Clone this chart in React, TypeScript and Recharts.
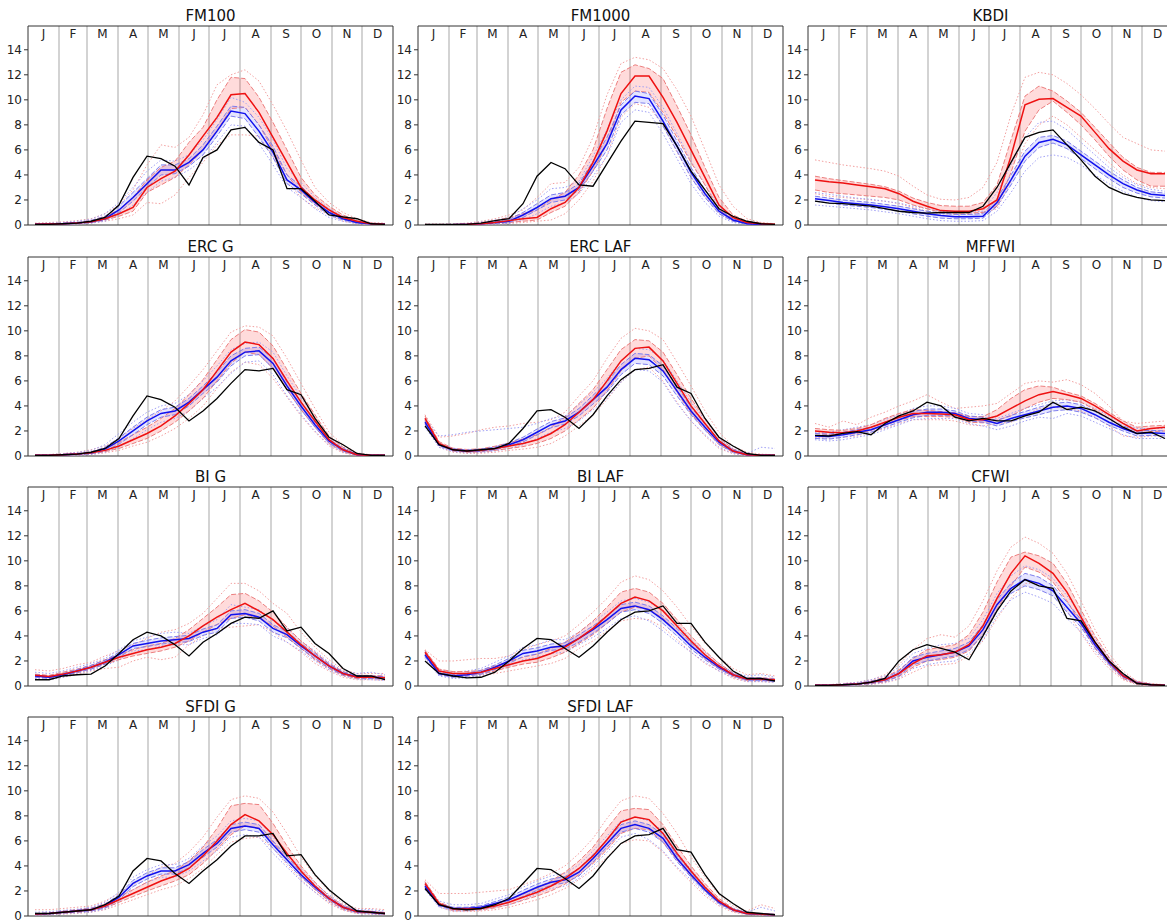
import React from 'react'
import { ComposedChart, Line, Area, XAxis, YAxis, CartesianGrid, ReferenceArea } from 'recharts'

// biweekly sample days
const DAYS = [7, 21, 35, 49, 63, 77, 91, 105, 119, 133, 147, 161, 175, 189, 203, 217, 231, 245, 259, 273, 287, 301, 315, 329, 343, 357]
const MONTHS = ['J', 'F', 'M', 'A', 'M', 'J', 'J', 'A', 'S', 'O', 'N', 'D']
const MONTH_EDGES = [31, 59, 90, 120, 151, 181, 212, 243, 273, 304, 334]
const MONTH_MIDS = [15.5, 45, 74.5, 105, 135.5, 166, 196.5, 227.5, 258, 288.5, 319, 349.5]
const Y_TICKS = [0, 2, 4, 6, 8, 10, 12, 14]
const Y_MAX = 15.9

// FM100
const FM100_OBS = [0.05,0.05,0.1,0.15,0.3,0.6,1.6,3.8,5.5,5.3,4.7,3.2,5.4,6.0,7.6,7.8,6.6,6.0,2.9,2.9,1.9,0.8,0.65,0.5,0.1,0.05]
const FM100_R = [0.05,0.08,0.1,0.15,0.25,0.5,0.9,1.4,3.0,3.7,4.3,5.6,7.1,8.6,10.4,10.5,9.0,7.0,5.0,3.0,2.0,1.2,0.6,0.3,0.1,0.05]
const FM100_R_HI = [0.1,0.12,0.15,0.2,0.35,0.7,1.2,2.2,3.6,4.6,5.1,6.6,7.8,10.0,11.8,11.7,10.2,8.2,6.0,3.8,2.4,1.5,0.8,0.35,0.15,0.1]
const FM100_R_LO = [0.03,0.05,0.08,0.1,0.2,0.4,0.7,1.1,2.6,3.2,3.8,4.8,6.0,7.5,9.3,9.4,8.0,6.0,4.0,2.6,1.7,1.0,0.45,0.2,0.05,0.03]
const FM100_R_MAX = [0.15,0.2,0.25,0.35,0.5,0.9,1.6,2.8,4.8,6.4,6.2,7.0,8.8,11.2,12.0,12.4,11.5,9.6,7.5,5.2,3.0,1.8,1.0,0.5,0.2,0.15]
const FM100_R_MIN = [0.02,0.03,0.05,0.08,0.15,0.3,0.5,0.8,1.8,1.7,2.4,3.8,5.0,6.4,7.2,7.2,7.1,5.5,3.5,2.2,1.4,0.8,0.3,0.1,0.03,0.02]
const FM100_B = [0.05,0.08,0.1,0.15,0.25,0.5,1.2,2.2,3.3,4.4,4.4,5.0,6.0,7.5,9.1,8.9,7.5,5.8,3.6,2.8,1.8,1.0,0.5,0.2,0.1,0.05]
const FM100_B_HI = [0.08,0.1,0.15,0.2,0.35,0.7,1.5,2.6,3.7,4.8,4.8,5.3,6.4,7.9,9.5,9.4,8.0,6.3,4.0,3.1,2.0,1.2,0.6,0.25,0.12,0.08]
const FM100_B_LO = [0.03,0.05,0.08,0.1,0.2,0.4,1.0,1.9,3.0,4.0,4.1,4.7,5.6,7.1,8.7,8.5,7.0,5.4,3.3,2.5,1.6,0.8,0.4,0.15,0.05,0.03]
const FM100_B_MAX = [0.1,0.15,0.2,0.3,0.45,0.9,1.8,3.0,4.3,5.2,5.1,5.6,6.8,8.4,10.2,9.8,8.6,6.8,4.5,3.4,2.2,1.3,0.7,0.3,0.15,0.1]
const FM100_B_MIN = [0.02,0.03,0.05,0.08,0.15,0.3,0.8,1.6,2.6,3.5,3.8,4.4,5.2,6.6,8.0,7.9,6.5,4.8,3.0,2.2,1.3,0.6,0.3,0.1,0.03,0.02]

// FM1000
const FM1000_OBS = [0.05,0.05,0.05,0.05,0.15,0.35,0.5,1.7,3.9,5.0,4.5,3.2,3.1,4.9,6.7,8.3,8.2,8.1,6.3,4.3,2.8,1.3,0.7,0.3,0.1,0.05]
const FM1000_R = [0.02,0.02,0.03,0.05,0.1,0.2,0.35,0.5,0.6,1.3,1.8,3.0,5.0,7.5,10.5,11.9,11.9,10.2,8.2,6.0,3.8,1.6,0.6,0.2,0.1,0.05]
const FM1000_R_HI = [0.05,0.05,0.06,0.1,0.2,0.35,0.6,0.9,1.2,2.0,2.6,4.0,6.0,9.3,12.2,12.8,12.5,11.7,9.5,7.2,4.6,2.2,0.8,0.3,0.15,0.08]
const FM1000_R_LO = [0.01,0.01,0.02,0.03,0.06,0.12,0.2,0.3,0.4,1.0,1.5,2.6,4.3,6.5,9.8,10.7,10.6,9.0,7.0,5.0,3.2,1.2,0.4,0.1,0.05,0.02]
const FM1000_R_MAX = [0.08,0.08,0.1,0.15,0.3,0.5,0.8,1.2,2.2,3.3,3.4,4.6,7.0,10.4,12.9,13.4,13.2,12.5,10.8,8.7,6.0,3.2,1.5,0.5,0.2,0.1]
const FM1000_R_MIN = [0.01,0.01,0.01,0.02,0.04,0.08,0.12,0.2,0.3,0.4,0.9,2.0,3.5,5.6,8.6,9.7,9.4,8.0,5.8,3.8,2.3,0.9,0.3,0.08,0.03,0.01]
const FM1000_B = [0.02,0.02,0.03,0.05,0.1,0.2,0.3,0.8,1.4,2.1,2.3,3.0,4.7,6.5,9.2,10.3,10.1,8.3,6.3,4.2,2.5,1.1,0.4,0.1,0.05,0.02]
const FM1000_B_HI = [0.04,0.04,0.05,0.08,0.15,0.3,0.45,1.0,1.7,2.4,2.6,3.3,5.1,7.0,9.6,10.7,10.5,8.8,6.7,4.6,2.8,1.3,0.5,0.15,0.08,0.04]
const FM1000_B_LO = [0.01,0.01,0.02,0.03,0.06,0.12,0.2,0.6,1.2,1.8,2.0,2.8,4.3,6.0,8.8,9.8,9.7,7.9,5.9,3.8,2.2,0.9,0.3,0.07,0.03,0.01]
const FM1000_B_MAX = [0.06,0.06,0.08,0.12,0.25,0.4,0.6,1.3,2.0,2.9,3.0,3.5,5.5,7.6,10.0,11.1,11.0,9.4,7.3,5.1,3.2,1.5,0.6,0.2,0.1,0.05]
const FM1000_B_MIN = [0.01,0.01,0.01,0.02,0.04,0.08,0.12,0.4,0.9,1.5,1.8,2.5,3.9,5.5,8.2,9.2,9.0,7.3,5.3,3.3,1.8,0.7,0.2,0.05,0.02,0.01]

// KBDI
const KBDI_OBS = [1.9,1.75,1.7,1.6,1.5,1.3,1.1,1.0,0.95,1.0,1.0,1.0,1.5,3.0,5.0,7.0,7.4,7.6,6.4,5.2,3.9,3.0,2.5,2.2,2.0,1.95]
const KBDI_R = [3.6,3.45,3.35,3.2,3.05,2.9,2.5,1.9,1.5,1.15,1.1,1.1,1.3,2.0,5.5,9.6,10.05,10.1,9.4,8.7,7.4,6.1,5.1,4.4,4.1,4.1]
const KBDI_R_HI = [3.9,3.7,3.55,3.4,3.25,3.05,2.7,2.15,1.8,1.55,1.5,1.5,1.8,3.2,6.8,10.3,11.1,10.7,9.9,9.0,7.8,6.6,5.4,4.6,4.2,4.2]
const KBDI_R_LO = [2.8,2.6,2.5,2.4,2.3,2.2,2.0,1.6,1.3,1.0,0.95,0.95,1.0,1.5,4.2,7.5,9.2,9.9,9.0,8.0,6.8,5.5,4.4,3.6,3.1,3.1]
const KBDI_R_MAX = [5.2,5.0,4.8,4.65,4.5,4.3,3.9,3.1,2.4,2.05,2.0,2.2,3.0,5.0,8.8,11.8,12.2,12.0,11.3,10.4,9.3,8.1,7.0,6.5,6.0,5.9]
const KBDI_R_MIN = [2.5,2.3,2.2,2.1,2.0,1.9,1.7,1.4,1.1,0.9,0.85,0.85,0.95,1.3,3.5,6.5,8.0,8.7,8.0,7.0,6.0,5.0,4.0,3.3,3.0,2.9]
const KBDI_B = [2.1,1.95,1.8,1.7,1.6,1.45,1.3,1.1,0.9,0.75,0.65,0.65,0.7,1.8,3.6,5.5,6.6,6.85,6.4,5.6,4.8,4.0,3.3,2.8,2.45,2.35]
const KBDI_B_HI = [2.3,2.15,2.0,1.9,1.8,1.65,1.5,1.3,1.1,0.95,0.85,0.85,0.9,2.1,4.0,5.9,7.0,7.15,6.7,5.9,5.1,4.3,3.6,3.0,2.65,2.55]
const KBDI_B_LO = [1.9,1.75,1.6,1.5,1.4,1.25,1.1,0.9,0.7,0.55,0.5,0.5,0.55,1.5,3.2,5.1,6.2,6.55,6.1,5.3,4.5,3.7,3.0,2.55,2.25,2.15]
const KBDI_B_MAX = [2.6,2.45,2.3,2.15,2.05,1.9,1.75,1.5,1.3,1.1,1.0,1.0,1.1,2.6,4.8,7.0,8.2,8.3,7.6,6.6,5.6,4.6,3.8,3.2,2.85,2.7]
const KBDI_B_MIN = [1.6,1.5,1.4,1.3,1.2,1.05,0.9,0.7,0.5,0.35,0.3,0.3,0.35,1.1,2.6,4.3,5.4,5.6,5.4,4.8,4.0,3.3,2.7,2.2,1.95,1.85]

// ERC G
const ERCG_OBS = [0.05,0.05,0.1,0.15,0.3,0.6,1.4,3.2,4.8,4.5,3.9,2.8,3.6,4.6,5.8,6.9,6.8,7.0,5.3,4.9,3.0,1.5,0.9,0.2,0.05,0.05]
const ERCG_R = [0.05,0.05,0.1,0.15,0.25,0.45,0.8,1.3,1.8,2.4,3.2,4.2,5.3,6.8,8.3,9.1,8.9,7.8,6.0,4.3,2.8,1.3,0.5,0.1,0.05,0.05]
const ERCG_R_HI = [0.08,0.08,0.15,0.2,0.35,0.6,1.1,1.7,2.3,3.0,3.8,4.9,6.1,7.7,9.3,10.1,9.9,8.8,6.9,5.0,3.3,1.6,0.7,0.15,0.08,0.08]
const ERCG_R_LO = [0.03,0.03,0.06,0.1,0.18,0.35,0.6,1.0,1.4,2.0,2.7,3.6,4.6,6.0,7.4,8.3,8.1,7.0,5.3,3.7,2.3,1.0,0.35,0.06,0.03,0.03]
const ERCG_R_MAX = [0.1,0.12,0.2,0.3,0.5,0.8,1.4,2.2,2.9,3.6,4.4,5.6,6.9,8.4,9.9,10.4,10.3,9.6,7.8,5.8,3.8,1.9,0.9,0.25,0.1,0.1]
const ERCG_R_MIN = [0.02,0.02,0.04,0.06,0.12,0.25,0.45,0.8,1.1,1.6,2.2,3.0,4.0,5.4,6.7,7.5,7.3,6.2,4.7,3.2,1.9,0.8,0.25,0.04,0.02,0.02]
const ERCG_B = [0.05,0.05,0.1,0.15,0.25,0.55,1.2,2.0,2.8,3.4,3.6,4.3,5.3,6.3,7.6,8.3,8.4,7.4,5.6,4.0,2.5,1.2,0.5,0.1,0.05,0.05]
const ERCG_B_HI = [0.07,0.07,0.13,0.2,0.32,0.7,1.45,2.3,3.1,3.7,3.9,4.6,5.6,6.7,8.0,8.6,8.7,7.8,5.9,4.3,2.7,1.35,0.6,0.13,0.07,0.07]
const ERCG_B_LO = [0.03,0.03,0.07,0.1,0.18,0.4,0.95,1.7,2.5,3.1,3.3,4.0,5.0,5.9,7.2,8.0,8.1,7.0,5.3,3.7,2.3,1.05,0.4,0.07,0.03,0.03]
const ERCG_B_MAX = [0.1,0.1,0.18,0.28,0.45,0.9,1.8,2.7,3.5,4.0,4.2,4.9,6.0,7.2,8.5,9.0,9.1,8.3,6.4,4.7,3.0,1.5,0.7,0.18,0.1,0.1]
const ERCG_B_MIN = [0.02,0.02,0.05,0.07,0.12,0.3,0.7,1.4,2.1,2.7,3.0,3.6,4.6,5.5,6.6,7.5,7.6,6.5,4.8,3.3,2.0,0.9,0.3,0.05,0.02,0.02]

// ERC LAF
const ERCL_OBS = [2.4,0.9,0.5,0.4,0.5,0.6,1.0,2.2,3.6,3.7,3.1,2.2,3.3,4.8,6.1,6.9,7.0,7.3,5.5,5.0,3.0,1.5,0.8,0.2,0.05,0.05]
const ERCL_R = [3.0,1.0,0.5,0.4,0.45,0.6,0.8,1.0,1.3,1.8,2.5,3.5,4.5,6.0,7.6,8.6,8.7,7.6,5.8,4.0,2.6,1.2,0.4,0.1,0.05,0.05]
const ERCL_R_HI = [3.2,1.15,0.62,0.52,0.58,0.78,1.05,1.35,1.7,2.3,3.1,4.2,5.3,6.9,8.5,9.3,9.2,8.3,6.5,4.6,3.0,1.5,0.55,0.15,0.08,0.08]
const ERCL_R_LO = [2.8,0.85,0.4,0.3,0.33,0.45,0.6,0.75,1.0,1.4,2.0,2.9,3.8,5.2,6.8,7.8,8.0,6.9,5.1,3.4,2.1,0.9,0.28,0.06,0.03,0.03]
const ERCL_R_MAX = [3.3,1.5,1.6,1.8,2.1,2.3,2.4,2.6,2.7,2.9,3.5,4.8,6.0,7.8,9.4,10.2,10.0,9.3,7.5,5.6,3.6,1.9,0.8,0.3,0.15,0.1]
const ERCL_R_MIN = [2.6,0.7,0.3,0.2,0.22,0.3,0.45,0.55,0.7,1.0,1.6,2.4,3.3,4.5,5.9,6.9,7.1,6.0,4.3,2.8,1.6,0.6,0.18,0.03,0.02,0.02]
const ERCL_B = [2.7,0.9,0.5,0.4,0.45,0.6,0.9,1.3,1.9,2.5,2.8,3.5,4.5,5.5,6.9,7.8,7.7,6.8,5.2,3.6,2.3,1.1,0.4,0.1,0.05,0.05]
const ERCL_B_HI = [2.85,1.0,0.58,0.48,0.55,0.72,1.05,1.5,2.15,2.75,3.05,3.8,4.85,5.9,7.3,8.2,8.1,7.2,5.6,3.9,2.55,1.25,0.5,0.13,0.07,0.07]
const ERCL_B_LO = [2.55,0.8,0.42,0.33,0.37,0.5,0.78,1.12,1.68,2.25,2.55,3.2,4.15,5.1,6.5,7.4,7.3,6.4,4.8,3.3,2.05,0.95,0.32,0.07,0.03,0.03]
const ERCL_B_MAX = [3.0,1.6,1.7,1.9,2.0,2.1,2.2,2.3,2.6,3.0,3.2,4.1,5.1,6.2,7.6,8.6,8.5,7.7,6.0,4.3,2.9,1.4,0.6,0.2,0.7,0.6]
const ERCL_B_MIN = [2.3,0.7,0.35,0.25,0.28,0.4,0.6,0.9,1.4,1.9,2.2,2.8,3.7,4.6,5.9,6.9,6.8,5.9,4.2,2.8,1.7,0.7,0.2,0.04,0.02,0.02]

// MFFWI
const MFF_OBS = [1.65,1.6,1.8,1.95,1.7,2.6,3.2,3.6,4.3,4.0,3.1,2.8,3.0,2.8,2.8,3.2,3.5,4.3,3.7,3.9,3.6,3.0,2.3,1.8,1.9,1.4]
const MFF_R = [2.0,1.9,1.85,2.0,2.3,2.7,3.1,3.4,3.4,3.35,3.3,2.9,2.9,3.2,3.8,4.4,4.9,5.15,4.9,4.6,4.0,3.3,2.6,2.0,2.2,2.3]
const MFF_R_HI = [2.2,2.1,2.05,2.2,2.5,3.0,3.4,3.7,3.65,3.55,3.45,3.15,3.15,3.7,4.6,5.3,5.6,5.5,5.1,4.8,4.2,3.5,2.8,2.3,2.4,2.45]
const MFF_R_LO = [1.8,1.7,1.7,1.8,2.05,2.45,2.85,3.15,3.15,3.15,3.1,2.7,2.65,2.85,3.2,3.8,4.3,4.6,4.5,4.3,3.7,3.0,2.3,1.8,1.95,2.0]
const MFF_R_MAX = [2.6,2.3,2.8,2.5,3.1,3.5,4.0,4.4,4.9,4.3,3.8,3.9,4.0,4.2,5.0,5.8,6.0,5.9,6.1,5.7,5.0,4.0,2.8,2.6,2.7,2.8]
const MFF_R_MIN = [1.5,1.4,1.5,1.6,1.9,2.2,2.6,2.9,2.9,2.9,2.8,2.5,2.4,2.6,2.7,3.2,3.8,3.9,3.8,3.6,3.1,2.4,1.6,1.5,1.6,1.6]
const MFF_B = [1.6,1.55,1.7,1.9,2.1,2.5,2.9,3.3,3.5,3.5,3.4,3.0,2.9,2.6,3.0,3.3,3.6,3.9,4.0,3.8,3.3,2.7,2.2,1.8,1.85,1.8]
const MFF_B_HI = [1.8,1.75,1.9,2.1,2.3,2.7,3.1,3.55,3.75,3.75,3.6,3.2,3.1,2.85,3.25,3.55,3.9,4.2,4.3,4.1,3.55,2.95,2.4,2.0,2.05,2.0]
const MFF_B_LO = [1.4,1.35,1.5,1.7,1.9,2.3,2.7,3.05,3.25,3.25,3.2,2.8,2.7,2.4,2.75,3.05,3.3,3.6,3.7,3.5,3.05,2.45,2.0,1.6,1.65,1.6]
const MFF_B_MAX = [1.9,1.9,2.1,2.3,2.5,2.9,3.3,3.8,4.0,4.0,3.8,3.4,3.3,3.0,3.4,3.8,4.1,4.4,4.5,4.3,3.8,3.2,2.6,2.2,2.2,2.2]
const MFF_B_MIN = [1.3,1.2,1.3,1.5,1.7,2.1,2.5,2.9,3.0,3.0,3.0,2.6,2.4,2.1,2.4,2.8,3.1,3.0,3.4,3.2,2.7,2.2,1.7,1.4,1.4,1.4]

// BI G
const BIG_OBS = [0.5,0.5,0.8,0.9,0.95,1.6,2.6,3.7,4.3,4.0,3.3,2.4,3.5,4.2,5.0,5.5,5.4,6.0,4.4,4.7,3.4,2.6,1.4,0.8,0.8,0.5]
const BIG_R = [0.85,0.75,0.95,1.2,1.5,1.9,2.3,2.6,2.9,3.1,3.4,4.0,4.8,5.5,6.1,6.6,6.0,5.3,4.3,3.3,2.4,1.6,1.0,0.7,0.7,0.65]
const BIG_R_HI = [0.95,0.85,1.1,1.35,1.65,2.1,2.5,2.9,3.2,3.4,3.8,4.5,5.4,6.3,7.3,7.4,6.8,5.9,4.7,3.6,2.7,1.8,1.15,0.85,0.85,0.8]
const BIG_R_LO = [0.75,0.65,0.85,1.05,1.35,1.75,2.1,2.4,2.6,2.8,3.1,3.6,4.3,4.9,5.4,5.7,5.4,4.8,3.9,3.0,2.1,1.4,0.85,0.6,0.6,0.55]
const BIG_R_MAX = [1.3,1.2,1.4,1.7,1.9,2.4,2.8,3.3,3.8,4.3,4.5,5.0,5.8,7.0,8.2,8.2,7.6,6.6,5.8,4.3,3.1,2.1,1.3,1.0,1.0,1.0]
const BIG_R_MIN = [0.6,0.5,0.7,0.9,1.2,1.4,1.5,2.0,2.3,2.1,2.3,3.3,4.0,4.6,4.7,4.8,4.9,4.3,3.5,2.7,1.8,1.2,0.7,0.5,0.5,0.45]
const BIG_B = [0.8,0.7,0.9,1.2,1.5,1.9,2.5,3.2,3.4,3.6,3.7,3.8,4.3,4.6,5.7,5.8,5.5,4.6,4.1,3.2,2.4,1.6,1.0,0.75,0.7,0.65]
const BIG_B_HI = [0.9,0.8,1.0,1.3,1.65,2.05,2.7,3.4,3.65,3.85,3.95,4.05,4.55,4.9,6.0,6.1,5.8,4.9,4.35,3.4,2.6,1.75,1.1,0.85,0.8,0.75]
const BIG_B_LO = [0.7,0.6,0.8,1.1,1.35,1.75,2.3,3.0,3.15,3.35,3.45,3.55,4.05,4.3,5.4,5.5,5.2,4.3,3.85,3.0,2.2,1.45,0.9,0.65,0.6,0.55]
const BIG_B_MAX = [1.1,1.0,1.2,1.5,1.8,2.2,2.9,3.6,3.9,4.2,4.3,4.2,4.8,5.3,6.5,6.3,6.1,5.2,4.6,3.6,2.8,1.9,1.2,1.0,1.1,0.9]
const BIG_B_MIN = [0.6,0.5,0.7,1.0,1.25,1.6,2.1,2.8,2.9,3.2,3.3,3.3,3.8,4.1,5.0,5.0,4.9,4.0,3.5,2.8,2.0,1.3,0.8,0.55,0.5,0.45]

// BI LAF
const BIL_OBS = [2.0,1.0,0.8,0.65,0.7,1.1,2.0,3.0,3.8,3.7,3.0,2.3,3.2,4.3,5.3,5.9,6.0,6.4,5.0,5.0,3.5,2.3,1.2,0.6,0.6,0.4]
const BIL_R = [2.7,1.2,1.0,1.0,1.1,1.4,1.7,2.0,2.2,2.6,3.1,3.8,4.6,5.6,6.6,7.1,6.8,6.0,4.8,3.6,2.5,1.6,0.9,0.55,0.55,0.5]
const BIL_R_HI = [2.85,1.35,1.15,1.15,1.25,1.6,1.95,2.3,2.55,3.0,3.5,4.3,5.2,6.3,7.5,7.8,7.5,6.6,5.3,4.0,2.8,1.8,1.05,0.65,0.65,0.6]
const BIL_R_LO = [2.55,1.05,0.85,0.85,0.95,1.2,1.5,1.75,1.9,2.25,2.7,3.4,4.1,5.0,5.9,6.3,6.1,5.4,4.3,3.2,2.2,1.4,0.75,0.45,0.45,0.4]
const BIL_R_MAX = [2.9,2.0,2.0,2.1,2.2,2.2,2.4,2.9,3.3,3.6,4.0,4.9,5.9,7.0,8.3,8.8,8.5,7.6,6.3,4.8,3.4,2.3,1.4,0.9,1.0,0.8]
const BIL_R_MIN = [2.3,0.9,0.7,0.7,0.8,1.0,1.2,1.4,1.6,1.8,2.2,3.0,3.6,4.4,5.2,5.4,5.3,4.7,3.7,2.7,1.8,1.2,0.6,0.35,0.35,0.3]
const BIL_B = [2.5,1.0,0.8,0.9,1.1,1.5,2.0,2.6,2.8,3.1,3.2,3.8,4.5,5.3,6.2,6.4,6.1,5.3,4.3,3.2,2.3,1.5,0.9,0.55,0.55,0.45]
const BIL_B_HI = [2.65,1.1,0.92,1.02,1.25,1.68,2.2,2.85,3.05,3.35,3.45,4.1,4.8,5.6,6.5,6.7,6.4,5.6,4.6,3.45,2.5,1.65,1.0,0.65,0.65,0.55]
const BIL_B_LO = [2.35,0.9,0.7,0.78,0.95,1.32,1.8,2.35,2.55,2.85,2.95,3.5,4.2,5.0,5.9,6.1,5.8,5.0,4.0,2.95,2.1,1.35,0.8,0.45,0.45,0.35]
const BIL_B_MAX = [2.8,1.3,1.1,1.2,1.4,1.9,2.4,3.1,3.3,3.7,3.7,4.3,5.1,5.9,6.8,7.0,6.7,6.0,5.0,3.7,2.7,1.8,1.1,0.8,0.9,0.7]
const BIL_B_MIN = [2.2,0.8,0.6,0.65,0.85,1.2,1.6,2.1,2.3,2.6,2.7,3.3,3.9,4.6,5.4,5.6,5.2,4.4,3.5,2.7,1.9,1.2,0.7,0.35,0.35,0.3]

// CFWI
const CFWI_OBS = [0.05,0.05,0.1,0.15,0.3,0.6,2.0,2.9,3.3,3.0,2.7,2.1,4.0,6.0,7.6,8.5,8.0,7.8,5.4,5.2,3.5,2.0,1.0,0.2,0.1,0.05]
const CFWI_R = [0.05,0.05,0.1,0.15,0.3,0.5,1.0,1.8,2.4,2.5,2.7,3.3,4.8,7.0,9.0,10.4,9.8,9.0,7.5,5.5,3.5,2.0,0.8,0.25,0.1,0.05]
const CFWI_R_HI = [0.08,0.08,0.15,0.2,0.4,0.7,1.3,2.2,2.9,3.1,3.3,4.1,5.9,8.3,10.3,10.7,10.4,9.8,8.2,6.1,4.0,2.3,1.0,0.35,0.15,0.08]
const CFWI_R_LO = [0.03,0.03,0.06,0.1,0.2,0.35,0.75,1.5,2.0,2.1,2.3,2.8,4.1,6.1,8.0,9.5,9.1,8.3,6.8,4.9,3.0,1.7,0.6,0.15,0.05,0.03]
const CFWI_R_MAX = [0.1,0.1,0.2,0.3,0.5,0.9,1.7,2.9,3.8,4.1,3.9,4.8,6.8,9.2,11.1,11.9,11.4,10.6,9.0,6.8,4.5,2.6,1.2,0.4,0.2,0.1]
const CFWI_R_MIN = [0.02,0.02,0.04,0.06,0.12,0.25,0.55,1.1,1.6,1.7,1.8,2.4,3.6,5.4,7.0,8.2,8.2,7.6,6.0,4.2,2.6,1.4,0.5,0.1,0.03,0.02]
const CFWI_B = [0.05,0.05,0.1,0.15,0.3,0.5,1.0,2.0,2.3,2.5,2.7,3.2,4.5,6.5,7.8,8.5,8.2,7.6,6.3,5.0,3.3,1.9,0.8,0.25,0.1,0.05]
const CFWI_B_HI = [0.07,0.07,0.13,0.2,0.38,0.62,1.2,2.3,2.6,2.8,3.0,3.5,4.9,6.9,8.2,9.0,8.7,8.0,6.7,5.3,3.55,2.05,0.9,0.3,0.12,0.07]
const CFWI_B_LO = [0.03,0.03,0.07,0.1,0.22,0.38,0.8,1.7,2.0,2.2,2.4,2.9,4.1,6.1,7.4,8.0,7.7,7.2,5.9,4.7,3.05,1.75,0.7,0.2,0.07,0.03]
const CFWI_B_MAX = [0.1,0.1,0.18,0.28,0.5,0.8,1.5,2.6,3.0,3.3,3.4,3.8,5.3,7.4,8.8,9.6,9.3,8.6,7.2,5.7,3.8,2.2,1.0,0.35,0.15,0.1]
const CFWI_B_MIN = [0.02,0.02,0.05,0.07,0.15,0.3,0.6,1.4,1.7,1.9,2.0,2.6,3.7,5.6,6.9,7.5,7.1,6.6,5.4,4.3,2.8,1.6,0.6,0.15,0.05,0.02]

// SFDI G
const SFG_OBS = [0.2,0.2,0.3,0.4,0.5,0.9,1.6,3.6,4.6,4.4,3.4,2.6,3.6,4.5,5.6,6.4,6.4,6.6,4.8,4.9,3.3,2.1,1.2,0.4,0.3,0.2]
const SFG_R = [0.15,0.2,0.3,0.4,0.5,0.8,1.3,1.8,2.3,2.8,3.2,3.8,4.8,6.0,7.3,8.1,7.6,6.5,5.0,3.6,2.4,1.4,0.7,0.35,0.3,0.2]
const SFG_R_HI = [0.2,0.25,0.38,0.5,0.62,0.98,1.55,2.1,2.7,3.2,3.6,4.4,5.5,7.0,8.8,9.0,8.9,7.4,5.6,4.0,2.7,1.6,0.85,0.45,0.38,0.28]
const SFG_R_LO = [0.1,0.15,0.22,0.3,0.4,0.65,1.1,1.55,2.0,2.4,2.8,3.3,4.2,5.3,6.5,7.2,7.0,5.9,4.5,3.2,2.1,1.2,0.55,0.25,0.22,0.14]
const SFG_R_MAX = [0.5,0.5,0.6,0.7,0.8,1.2,1.8,2.5,3.2,3.9,4.2,5.1,6.3,7.9,9.3,9.6,9.4,8.3,6.6,4.7,3.2,2.0,1.0,0.6,0.6,0.5]
const SFG_R_MIN = [0.08,0.1,0.15,0.2,0.3,0.5,0.9,1.3,1.7,2.1,2.4,3.0,3.8,4.9,5.9,6.2,6.3,5.4,4.1,2.9,1.9,1.0,0.45,0.2,0.15,0.1]
const SFG_B = [0.15,0.2,0.3,0.4,0.5,0.8,1.5,2.6,3.2,3.6,3.6,4.1,5.0,5.8,7.0,7.2,7.0,5.7,4.5,3.3,2.3,1.4,0.7,0.35,0.3,0.2]
const SFG_B_HI = [0.2,0.25,0.37,0.48,0.6,0.95,1.7,2.85,3.45,3.85,3.85,4.35,5.3,6.1,7.3,7.5,7.3,6.0,4.75,3.5,2.45,1.5,0.78,0.42,0.37,0.27]
const SFG_B_LO = [0.1,0.15,0.23,0.32,0.4,0.65,1.3,2.35,2.95,3.35,3.35,3.85,4.7,5.5,6.7,6.9,6.7,5.4,4.25,3.1,2.15,1.3,0.62,0.28,0.23,0.13]
const SFG_B_MAX = [0.3,0.35,0.45,0.55,0.7,1.1,1.9,3.1,3.7,4.1,4.1,4.6,5.6,6.4,7.6,7.8,7.6,6.3,5.0,3.8,2.6,1.7,0.9,0.5,0.5,0.4]
const SFG_B_MIN = [0.08,0.1,0.18,0.25,0.32,0.55,1.1,2.1,2.7,3.1,3.1,3.6,4.4,5.2,6.3,6.5,6.3,5.0,3.9,2.8,1.9,1.1,0.5,0.2,0.15,0.1]

// SFDI LAF
const SFL_OBS = [2.2,0.9,0.6,0.5,0.6,0.9,1.4,2.6,3.8,3.7,3.0,2.2,3.2,4.6,5.8,6.4,6.5,7.0,5.3,5.1,3.3,1.8,1.0,0.3,0.2,0.1]
const SFL_R = [2.6,1.0,0.55,0.55,0.6,0.8,1.1,1.5,1.9,2.4,3.0,3.8,4.8,6.1,7.5,7.9,7.7,6.6,5.0,3.6,2.3,1.2,0.5,0.2,0.15,0.1]
const SFL_R_HI = [2.75,1.12,0.65,0.65,0.72,0.95,1.3,1.75,2.25,2.8,3.5,4.4,5.5,7.0,8.4,8.6,8.5,7.3,5.6,4.0,2.6,1.4,0.6,0.25,0.2,0.14]
const SFL_R_LO = [2.45,0.88,0.45,0.45,0.5,0.65,0.9,1.25,1.6,2.0,2.55,3.3,4.2,5.3,6.6,7.0,6.9,5.9,4.5,3.2,2.0,1.0,0.4,0.15,0.1,0.07]
const SFL_R_MAX = [2.9,1.8,1.8,1.8,1.9,2.0,2.1,2.5,2.9,3.4,4.0,5.0,6.2,7.8,9.2,9.6,9.4,8.2,6.6,4.7,3.1,1.7,0.8,0.4,0.9,0.6]
const SFL_R_MIN = [2.3,0.75,0.35,0.35,0.4,0.5,0.7,1.0,1.3,1.7,2.2,2.9,3.7,4.7,5.8,6.1,6.0,5.1,3.8,2.7,1.6,0.8,0.3,0.1,0.06,0.04]
const SFL_B = [2.4,0.9,0.6,0.6,0.7,1.0,1.3,1.8,2.3,2.7,2.9,3.5,4.6,5.8,7.0,7.3,7.0,6.2,4.6,3.3,2.1,1.1,0.5,0.2,0.15,0.1]
const SFL_B_HI = [2.55,1.0,0.7,0.7,0.82,1.15,1.5,2.05,2.55,2.95,3.15,3.8,4.9,6.1,7.3,7.6,7.3,6.5,4.85,3.5,2.25,1.2,0.56,0.24,0.18,0.13]
const SFL_B_LO = [2.25,0.8,0.5,0.5,0.58,0.85,1.1,1.55,2.05,2.45,2.65,3.2,4.3,5.5,6.7,7.0,6.7,5.9,4.35,3.1,1.95,1.0,0.44,0.16,0.12,0.07]
const SFL_B_MAX = [2.7,1.2,0.9,0.9,1.0,1.35,1.7,2.3,2.8,3.2,3.4,4.1,5.2,6.4,7.6,7.9,7.6,6.8,5.1,3.7,2.4,1.3,0.65,0.3,0.7,0.4]
const SFL_B_MIN = [2.1,0.7,0.4,0.4,0.48,0.7,0.9,1.3,1.8,2.2,2.4,3.0,4.0,5.1,6.3,6.6,6.1,5.2,3.9,2.9,1.8,0.9,0.38,0.12,0.08,0.05]

type PanelDef = {
  title: string
  obs: number[]
  r: number[]; rLo: number[]; rHi: number[]; rMin: number[]; rMax: number[]
  b: number[]; bLo: number[]; bHi: number[]; bMin: number[]; bMax: number[]
}

const PANELS: PanelDef[] = [
  { title: 'FM100', obs: FM100_OBS, r: FM100_R, rLo: FM100_R_LO, rHi: FM100_R_HI, rMin: FM100_R_MIN, rMax: FM100_R_MAX, b: FM100_B, bLo: FM100_B_LO, bHi: FM100_B_HI, bMin: FM100_B_MIN, bMax: FM100_B_MAX },
  { title: 'FM1000', obs: FM1000_OBS, r: FM1000_R, rLo: FM1000_R_LO, rHi: FM1000_R_HI, rMin: FM1000_R_MIN, rMax: FM1000_R_MAX, b: FM1000_B, bLo: FM1000_B_LO, bHi: FM1000_B_HI, bMin: FM1000_B_MIN, bMax: FM1000_B_MAX },
  { title: 'KBDI', obs: KBDI_OBS, r: KBDI_R, rLo: KBDI_R_LO, rHi: KBDI_R_HI, rMin: KBDI_R_MIN, rMax: KBDI_R_MAX, b: KBDI_B, bLo: KBDI_B_LO, bHi: KBDI_B_HI, bMin: KBDI_B_MIN, bMax: KBDI_B_MAX },
  { title: 'ERC G', obs: ERCG_OBS, r: ERCG_R, rLo: ERCG_R_LO, rHi: ERCG_R_HI, rMin: ERCG_R_MIN, rMax: ERCG_R_MAX, b: ERCG_B, bLo: ERCG_B_LO, bHi: ERCG_B_HI, bMin: ERCG_B_MIN, bMax: ERCG_B_MAX },
  { title: 'ERC LAF', obs: ERCL_OBS, r: ERCL_R, rLo: ERCL_R_LO, rHi: ERCL_R_HI, rMin: ERCL_R_MIN, rMax: ERCL_R_MAX, b: ERCL_B, bLo: ERCL_B_LO, bHi: ERCL_B_HI, bMin: ERCL_B_MIN, bMax: ERCL_B_MAX },
  { title: 'MFFWI', obs: MFF_OBS, r: MFF_R, rLo: MFF_R_LO, rHi: MFF_R_HI, rMin: MFF_R_MIN, rMax: MFF_R_MAX, b: MFF_B, bLo: MFF_B_LO, bHi: MFF_B_HI, bMin: MFF_B_MIN, bMax: MFF_B_MAX },
  { title: 'BI G', obs: BIG_OBS, r: BIG_R, rLo: BIG_R_LO, rHi: BIG_R_HI, rMin: BIG_R_MIN, rMax: BIG_R_MAX, b: BIG_B, bLo: BIG_B_LO, bHi: BIG_B_HI, bMin: BIG_B_MIN, bMax: BIG_B_MAX },
  { title: 'BI LAF', obs: BIL_OBS, r: BIL_R, rLo: BIL_R_LO, rHi: BIL_R_HI, rMin: BIL_R_MIN, rMax: BIL_R_MAX, b: BIL_B, bLo: BIL_B_LO, bHi: BIL_B_HI, bMin: BIL_B_MIN, bMax: BIL_B_MAX },
  { title: 'CFWI', obs: CFWI_OBS, r: CFWI_R, rLo: CFWI_R_LO, rHi: CFWI_R_HI, rMin: CFWI_R_MIN, rMax: CFWI_R_MAX, b: CFWI_B, bLo: CFWI_B_LO, bHi: CFWI_B_HI, bMin: CFWI_B_MIN, bMax: CFWI_B_MAX },
  { title: 'SFDI G', obs: SFG_OBS, r: SFG_R, rLo: SFG_R_LO, rHi: SFG_R_HI, rMin: SFG_R_MIN, rMax: SFG_R_MAX, b: SFG_B, bLo: SFG_B_LO, bHi: SFG_B_HI, bMin: SFG_B_MIN, bMax: SFG_B_MAX },
  { title: 'SFDI LAF', obs: SFL_OBS, r: SFL_R, rLo: SFL_R_LO, rHi: SFL_R_HI, rMin: SFL_R_MIN, rMax: SFL_R_MAX, b: SFL_B, bLo: SFL_B_LO, bHi: SFL_B_HI, bMin: SFL_B_MIN, bMax: SFL_B_MAX },
]

const FONT = '"DejaVu Sans", sans-serif'
const COL_LEFT = [0, 390, 780]
const ROW_TOP = [0, 231, 461, 691]
const CHART_W = 395
const CHART_H = 238
const Y_AXIS_W = 28
const TOP_AXIS_H = 20

const MonthTick = (props: any) => {
  const { x, y, payload, index } = props
  let i = MONTH_MIDS.indexOf(payload?.value)
  if (i < 0) i = index ?? 0
  return (
    <text x={x} y={y + 12} textAnchor="middle" fontSize={12} fill="#222" fontFamily={FONT}>
      {MONTHS[i]}
    </text>
  )
}

const RED = '#ee1111'
const BLUE = '#1111ee'

function Panel({ p, col, row }: { p: PanelDef; col: number; row: number }) {
  const rows = DAYS.map((day, i) => ({
    day,
    obs: p.obs[i],
    r: p.r[i], rLo: p.rLo[i], rHi: p.rHi[i], rMin: p.rMin[i], rMax: p.rMax[i],
    rBand: [p.rLo[i], p.rHi[i]],
    b: p.b[i], bLo: p.bLo[i], bHi: p.bHi[i], bMin: p.bMin[i], bMax: p.bMax[i],
    bBand: [p.bLo[i], p.bHi[i]],
  }))
  const dotted = (key: string, color: string) => (
    <Line dataKey={key} type="linear" stroke={color} strokeWidth={1} strokeDasharray="1.5 2" dot={false} isAnimationActive={false} />
  )
  const dashed = (key: string, color: string) => (
    <Line dataKey={key} type="linear" stroke={color} strokeWidth={1} strokeDasharray="5 2" dot={false} isAnimationActive={false} />
  )
  return (
    <div style={{ position: 'absolute', left: COL_LEFT[col], top: ROW_TOP[row], width: CHART_W, height: CHART_H }}>
      <div style={{ position: 'absolute', left: Y_AXIS_W, width: 365, top: 8, textAlign: 'center', fontFamily: FONT, fontSize: 15, lineHeight: '16px', color: '#111' }}>
        {p.title}
      </div>
      <ComposedChart width={CHART_W} height={CHART_H} data={rows} margin={{ top: 26 - TOP_AXIS_H, right: 2, bottom: 13, left: 0 }}>
        <CartesianGrid horizontal={false} vertical verticalValues={MONTH_EDGES} stroke="#c4c4c4" strokeWidth={1.5} />
        <XAxis
          dataKey="day"
          type="number"
          domain={[0, 365]}
          orientation="top"
          ticks={MONTH_MIDS}
          tick={MonthTick}
          tickLine={false}
          axisLine={false}
          tickSize={0}
          tickMargin={0}
          height={TOP_AXIS_H}
          interval={0}
          allowDataOverflow
        />
        <YAxis
          type="number"
          domain={[0, Y_MAX]}
          ticks={Y_TICKS}
          width={Y_AXIS_W}
          axisLine={false}
          tickLine={{ stroke: '#333' }}
          tickSize={4}
          tickMargin={2}
          tick={{ fontSize: 12, fill: '#222', fontFamily: FONT }}
          interval={0}
          allowDataOverflow
        />
        <Area dataKey="rBand" type="linear" stroke="none" fill="#ff0000" fillOpacity={0.14} isAnimationActive={false} />
        <Area dataKey="bBand" type="linear" stroke="none" fill="#0000ff" fillOpacity={0.1} isAnimationActive={false} />
        {dotted('rMax', '#f3a0a0')}
        {dotted('rMin', '#f3a0a0')}
        {dotted('bMax', '#9f9ff5')}
        {dotted('bMin', '#9f9ff5')}
        {dashed('rHi', '#ec7f7f')}
        {dashed('rLo', '#ec7f7f')}
        {dashed('bHi', '#7f7fee')}
        {dashed('bLo', '#7f7fee')}
        <Line dataKey="b" type="linear" stroke={BLUE} strokeWidth={1.5} dot={false} isAnimationActive={false} />
        <Line dataKey="r" type="linear" stroke={RED} strokeWidth={1.5} dot={false} isAnimationActive={false} />
        <Line dataKey="obs" type="linear" stroke="#000" strokeWidth={1.3} dot={false} isAnimationActive={false} />
        <ReferenceArea x1={0} x2={365} y1={0} y2={Y_MAX} fill="none" stroke="#333" strokeWidth={1} ifOverflow="visible" />
      </ComposedChart>
    </div>
  )
}

export default function App() {
  return (
    <div style={{ position: 'absolute', left: 0, top: 0, width: 1167, height: 921, overflow: 'hidden', background: '#fff' }}>
      {PANELS.map((p, i) => (
        <Panel key={p.title} p={p} col={i % 3} row={Math.floor(i / 3)} />
      ))}
    </div>
  )
}
